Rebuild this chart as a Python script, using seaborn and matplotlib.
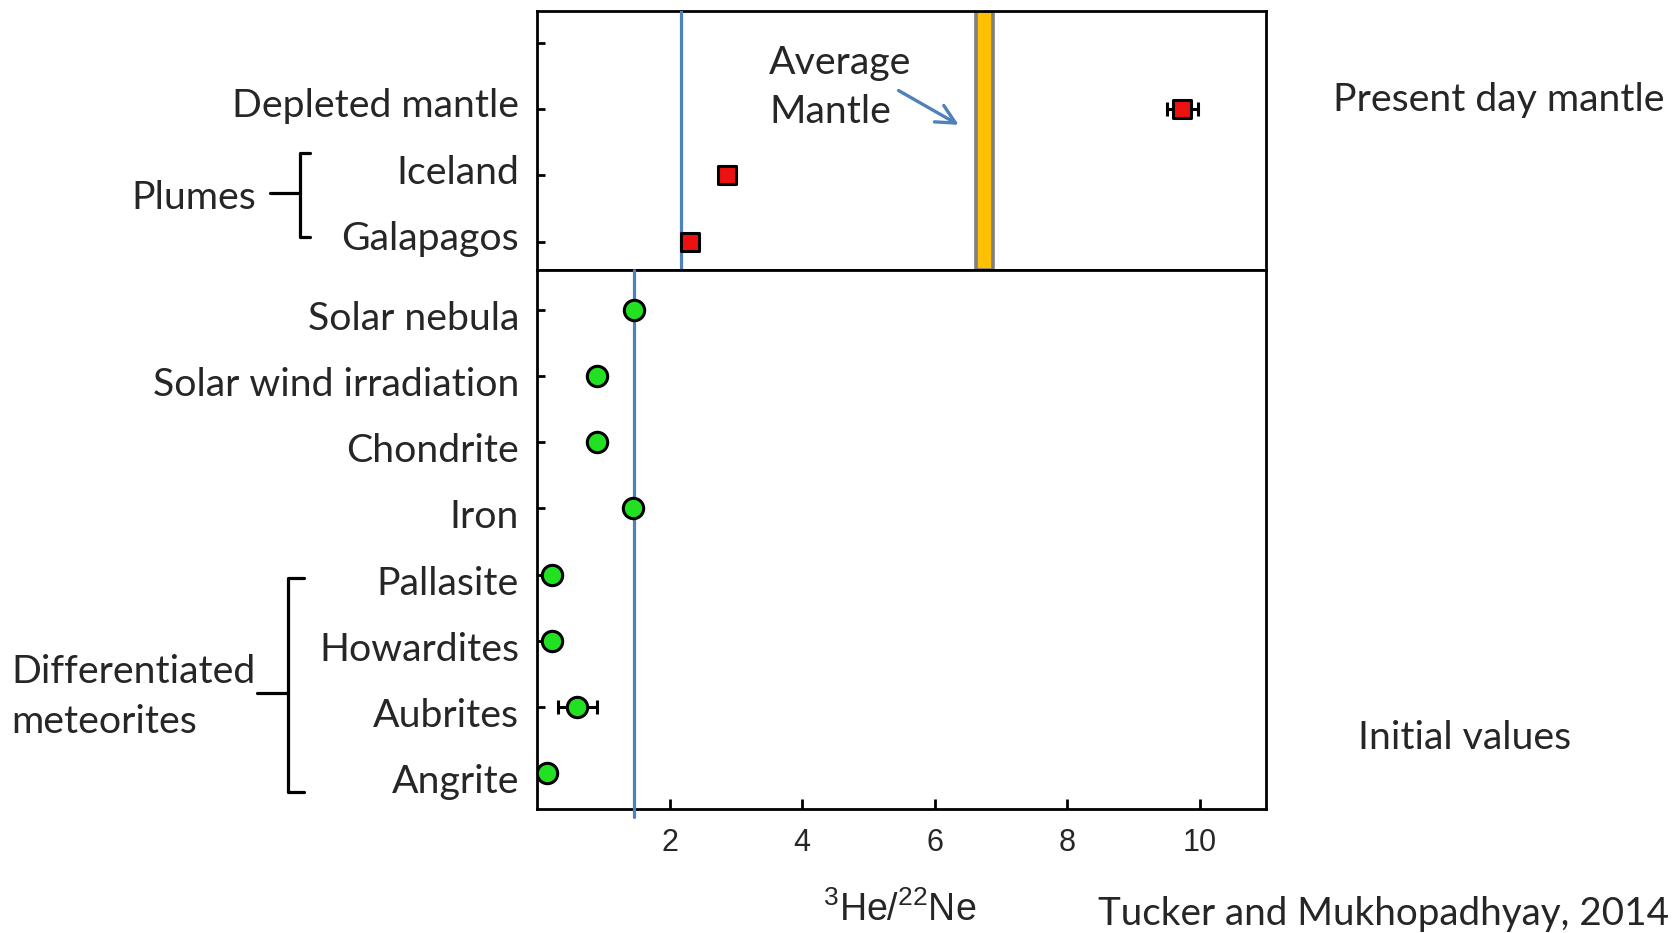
import numpy as np
import pandas as pd
import matplotlib
matplotlib.use("Agg")
import matplotlib.pyplot as plt
from matplotlib.lines import Line2D
from matplotlib.transforms import ScaledTranslation
import seaborn as sns

# ---------------- data ----------------
mantle_tick_labels = ["", "Depleted mantle", "Iceland", "Galapagos"]
mantle_names = ["Depleted mantle", "Iceland", "Galapagos"]
mantle_values = [9.74, 2.87, 2.31]
mantle_errors = [0.23, 0.0, 0.0]

initial_names = ["Solar nebula", "Solar wind irradiation", "Chondrite", "Iron",
                 "Pallasite", "Howardites", "Aubrites", "Angrite"]
initial_values = [1.47, 0.90, 0.90, 1.45, 0.23, 0.23, 0.61, 0.15]
initial_errors = [0.0, 0.0, 0.0, 0.05, 0.0, 0.0, 0.29, 0.0]

plume_ref = 2.18
initial_ref = 1.47
avg_mantle_range = [6.62, 6.88]
x_ticks = [2, 4, 6, 8, 10]
x_limits = [0, 11]

# ---------------- style ----------------
sns.set_theme(style="white")
plt.rcParams["font.family"] = ["Lato", "DejaVu Sans"]
plt.rcParams["mathtext.default"] = "regular"

W, H = 1675, 933
fig = plt.figure(figsize=(W / 100, H / 100), dpi=100)

def fx(px):
    return px / W

def fy(py):
    return 1 - py / H

L, R = fx(537), fx(1266)
top_y, div_y, bot_y = fy(11), fy(270), fy(808.6)
ax_top = fig.add_axes([L, div_y, R - L, top_y - div_y])
ax_bot = fig.add_axes([L, bot_y, R - L, div_y - bot_y], sharex=ax_top)

blue = "#4F81BD"
red = "#EE1111"
green = "#22E022"
label_fs = 28.3
num_font = ["Liberation Sans Narrow", "Liberation Sans", "DejaVu Sans"]

df_top = pd.DataFrame({"name": mantle_names, "value": mantle_values,
                       "err": mantle_errors,
                       "pos": np.arange(1, len(mantle_names) + 1)})
df_bot = pd.DataFrame({"name": initial_names, "value": initial_values,
                       "err": initial_errors,
                       "pos": np.arange(len(initial_names))})

# upper panel
ax_top.axvspan(avg_mantle_range[0], avg_mantle_range[1], ymin=0, ymax=1,
               facecolor="#FFC000", edgecolor="#7F7F7F", linewidth=2.6, zorder=2)
ax_top.axvline(plume_ref, color=blue, lw=2.3, zorder=3)
e = df_top[df_top.err > 0]
ax_top.errorbar(e.value, e.pos, xerr=e.err, fmt="none", ecolor="black",
                elinewidth=2.2, capsize=5, capthick=2.2, zorder=4)
sns.scatterplot(data=df_top, x="value", y="pos", marker="s", s=175, color=red,
                edgecolor="black", linewidth=2.2, zorder=5, ax=ax_top, legend=False)
ax_top.annotate("", xy=(6.4, 1.26), xytext=(5.42, 0.7),
                arrowprops=dict(arrowstyle="->", color=blue, lw=2.4,
                                mutation_scale=34))
ax_top.text(3.5, 0.67, "Average\nMantle", ha="left", va="center",
            fontsize=label_fs, linespacing=1.45)

# lower panel
ax_bot.axvline(initial_ref, ymin=-0.015, ymax=1, color=blue, lw=2.3, zorder=3,
               clip_on=False)
e = df_bot[df_bot.err > 0]
ax_bot.errorbar(e.value, e.pos, xerr=e.err, fmt="none", ecolor="black",
                elinewidth=2.2, capsize=5, capthick=2.2, zorder=4)
sns.scatterplot(data=df_bot, x="value", y="pos", marker="o", s=215, color=green,
                edgecolor="black", linewidth=2.2, zorder=5, ax=ax_bot, legend=False)

# axes formatting
for ax in (ax_top, ax_bot):
    ax.set_xlabel("")
    ax.set_ylabel("")
    for sp in ax.spines.values():
        sp.set_visible(True)
        sp.set_color("black")
        sp.set_linewidth(2.0)
    ax.tick_params(axis="y", left=True, direction="in", length=6, width=2,
                   color="black", pad=13, labelsize=label_fs)
    ax.grid(False)

ax_top.set_ylim(3.43, -0.48)
ax_top.set_yticks(range(len(mantle_tick_labels)), mantle_tick_labels)
ax_top.tick_params(axis="x", bottom=False, labelbottom=False)

ax_bot.set_ylim(7.53, -0.60)
ax_bot.set_yticks(df_bot.pos, initial_names)
ax_bot.set_xlim(*x_limits)
ax_bot.set_xticks(x_ticks, [str(t) for t in x_ticks])
ax_bot.tick_params(axis="x", bottom=True, direction="in", length=7, width=2,
                   color="black", pad=14, labelsize=22)
for t in ax_bot.get_xticklabels():
    t.set_family(num_font)

# small vertical offsets of the category labels, as in the reference
for tick in ax_top.yaxis.get_major_ticks():
    tick.label1.set_transform(tick.label1.get_transform() +
                              ScaledTranslation(0, 4.5 / 72, fig.dpi_scale_trans))
for tick in ax_bot.yaxis.get_major_ticks():
    tick.label1.set_transform(tick.label1.get_transform() +
                              ScaledTranslation(0, -3.8 / 72, fig.dpi_scale_trans))

# figure texts
fig.text(fx(900), fy(910), r"$^{3}$He/$^{22}$Ne", ha="center", va="center",
         fontsize=27, family=num_font)
fig.text(fx(1333), fy(100), "Present day mantle", ha="left", va="center",
         fontsize=label_fs)
fig.text(fx(1358), fy(738), "Initial values", ha="left", va="center",
         fontsize=label_fs)
fig.text(fx(1098), fy(914), "Tucker and Mukhopadhyay, 2014", ha="left",
         va="center", fontsize=27.8)
fig.text(fx(256), fy(198), "Plumes", ha="right", va="center", fontsize=label_fs)
fig.text(fx(11), fy(697), "Differentiated\nmeteorites", ha="left", va="center",
         fontsize=label_fs, linespacing=1.45)

def bracket(xv, xs, y0, y1, xh, ym):
    fig.add_artist(Line2D([fx(xs), fx(xv), fx(xv), fx(xs)],
                          [fy(y0), fy(y0), fy(y1), fy(y1)],
                          transform=fig.transFigure, color="black", lw=2.3))
    fig.add_artist(Line2D([fx(xh), fx(xv)], [fy(ym), fy(ym)],
                          transform=fig.transFigure, color="black", lw=2.3))

bracket(300, 310, 153, 237, 270, 193)
bracket(288, 304, 578, 792, 257, 693)

fig.savefig("out.png", dpi=100)
